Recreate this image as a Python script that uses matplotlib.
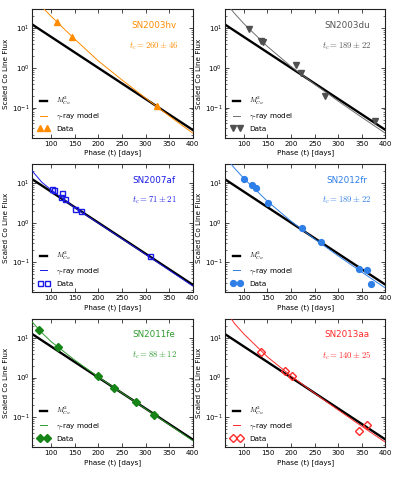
import matplotlib
matplotlib.use("Agg")
import matplotlib.pyplot as plt
from matplotlib.ticker import FixedLocator

plt.rcParams['font.family'] = ['DejaVu Sans']
plt.rcParams['mathtext.fontset'] = 'cm'
plt.rcParams['xtick.direction'] = 'in'
plt.rcParams['ytick.direction'] = 'in'
plt.rcParams['xtick.top'] = True
plt.rcParams['ytick.right'] = True

# ---- data ----
names = ["SN2003hv", "SN2003du", "SN2007af", "SN2012fr", "SN2011fe", "SN2013aa"]
tc_labels = [r"$t_c = 260 \pm 46$", r"$t_c = 189 \pm 22$", r"$t_c = 71 \pm 21$",
             r"$t_c = 189 \pm 22$", r"$t_c = 88 \pm 12$", r"$t_c = 140 \pm 25$"]

mco_t = [60, 400]
mco_v = [12.4, 0.0275]

model_t = [60, 80, 100, 150, 200, 250, 300, 350, 400]
hv_model = [63, 35, 19.9, 5.3, 1.5, 0.5, 0.175, 0.062, 0.0229]
du_model = [46, 23.7, 13.0, 3.46, 1.09, 0.388, 0.146, 0.057, 0.0226]
af_model = [20, 10.5, 6.7, 2.4, 0.97, 0.395, 0.16, 0.064, 0.0255]
fr_model = [46, 23.7, 13.0, 3.46, 1.09, 0.388, 0.146, 0.057, 0.0226]
fe_model = [25, 13.5, 8.0, 2.75, 1.03, 0.41, 0.163, 0.065, 0.0258]
aa_model = [52, 23, 12.5, 3.3, 1.1, 0.40, 0.152, 0.059, 0.0235]

hv_t = [112, 144, 325]
hv_v = [14.1, 6.0, 0.11]
du_t = [111, 137, 141, 211, 221, 272, 377]
du_v = [9.4, 4.7, 4.4, 1.19, 0.73, 0.195, 0.045]
af_t = [102, 107, 120, 123, 130, 151, 164, 310]
af_v = [6.9, 6.6, 4.5, 5.5, 3.9, 2.2, 2.0, 0.145]
fr_t = [101, 117, 126, 151, 224, 263, 344, 361, 370]
fr_v = [12.9, 8.7, 7.5, 3.1, 0.73, 0.326, 0.068, 0.063, 0.028]
fe_t = [74, 114, 199, 233, 279, 318]
fe_v = [16.2, 6.0, 1.08, 0.56, 0.244, 0.117]
aa_t = [137, 187, 203, 345, 361]
aa_v = [4.5, 1.5, 1.08, 0.046, 0.062]

x_ticks = [100, 150, 200, 250, 300, 350, 400]

panels = [
    dict(t=hv_t, v=hv_v, m=hv_model, color="#FF8C00", tcol="#FF8C00", marker="^", filled=True),
    dict(t=du_t, v=du_v, m=du_model, color="#707070", tcol="#555555", marker="v", filled=True, mcol="#505050"),
    dict(t=af_t, v=af_v, m=af_model, color="#1A1AE6", tcol="#1A1AE6", marker="s", filled=False),
    dict(t=fr_t, v=fr_v, m=fr_model, color="#2F7FE8", tcol="#2F7FE8", marker="o", filled=True),
    dict(t=fe_t, v=fe_v, m=fe_model, color="#2E9B2E", tcol="#2E9B2E", marker="D", filled=True, mcol="#178417"),
    dict(t=aa_t, v=aa_v, m=aa_model, color="#FF2A2A", tcol="#FF2A2A", marker="D", filled=False),
]

fig = plt.figure(figsize=(3.99, 4.87), dpi=100)
lefts = [0.081, 0.564]
bottoms = [0.7172, 0.3994, 0.0815]
W, H = 0.402, 0.2637

for i, p in enumerate(panels):
    r, c = divmod(i, 2)
    ax = fig.add_axes([lefts[c], bottoms[r], W, H])
    ax.set_yscale('log')
    ax.plot(mco_t, mco_v, color='black', lw=1.7, label=r"$M_{Co}^2$", zorder=2)
    ax.plot(model_t, p['m'], color=p['color'], lw=0.7, label=r"$\gamma$-ray model", zorder=3)
    mcol = p.get('mcol', p['color'])
    if p['filled']:
        ax.plot(p['t'], p['v'], ls='none', marker=p['marker'], ms=4.2, mfc=mcol, mec=mcol,
                label="Data", zorder=4)
    else:
        ax.plot(p['t'], p['v'], ls='none', marker=p['marker'], ms=3.6, mfc='none', mec=p['color'],
                mew=1.0, label="Data", zorder=4)
    ax.set_xlim(60, 400)
    ax.set_ylim(0.0175, 30)
    ax.xaxis.set_major_locator(FixedLocator(x_ticks))
    ax.tick_params(which='major', length=3, width=0.5, labelsize=5, pad=2)
    ax.tick_params(which='minor', length=1.5, width=0.4)
    for s in ax.spines.values():
        s.set_linewidth(0.8)
        s.set_color('#222222')
    ax.set_xlabel("Phase (t) [days]", fontsize=5.2, labelpad=2)
    ax.set_ylabel("Scaled Co Line Flux", fontsize=5.2, labelpad=2)
    ax.text(0.76, 0.875, names[i], transform=ax.transAxes, ha='center', va='center',
            fontsize=6.3, color=p['tcol'])
    ax.text(0.76, 0.715, tc_labels[i], transform=ax.transAxes, ha='center', va='center',
            fontsize=6.3, color=p['tcol'])
    ax.legend(loc='lower left', frameon=False, fontsize=5.2, numpoints=2,
              handlelength=1.6, handletextpad=0.9, labelspacing=0.55,
              borderaxespad=0.4, borderpad=0.4)

fig.savefig("out.png", dpi=100, facecolor='white')
